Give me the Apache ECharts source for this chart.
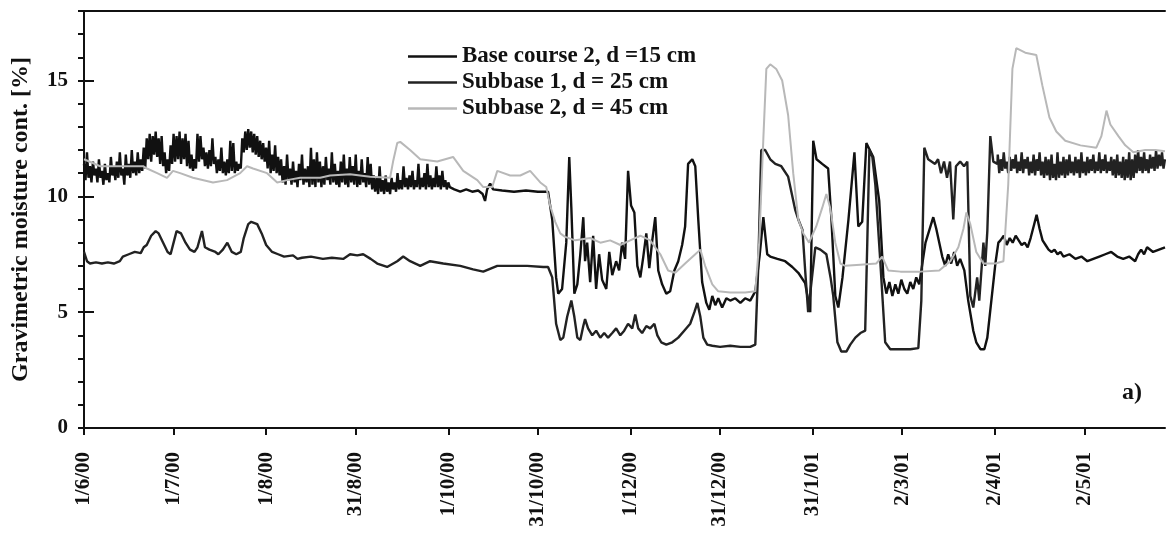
<!DOCTYPE html>
<html lang="en">
<head>
<meta charset="UTF-8">
<title>Gravimetric moisture content</title>
<script src="https://cdn.jsdelivr.net/npm/echarts@6/dist/echarts.min.js"></script>
<style>
    html, body { margin: 0; padding: 0; background: #fff; }
    #main { width: 1166px; height: 534px; }
</style>
</head>
<body>
<div id="main"></div>
<script>
// days counted from 1/6/00
var dayCount = 363;
var tickDays = [0, 30, 61, 91, 122, 152, 183, 213, 244, 274, 305, 335];
var tickLabels = ['1/6/00', '1/7/00', '1/8/00', '31/8/00', '1/10/00', '31/10/00', '1/12/00', '31/12/00', '31/1/01', '2/3/01', '2/4/01', '2/5/01'];
var seriesNames = ['Base course 2, d =15 cm', 'Subbase 1, d = 25 cm', 'Subbase 2, d = 45 cm'];

var baseCourse = [
    [0, 11.4], [0.5, 10.7], [1, 11.9], [1.5, 10.8], [2, 11.3], [2.5, 10.6], [3, 11.5], [3.5, 10.9], [4, 11.2], [4.5, 10.6],
    [5, 11.6], [5.5, 10.8], [6, 11.1], [6.5, 10.5], [7, 11.4], [7.5, 10.7], [8, 11.0], [8.5, 10.6], [9, 11.7], [9.5, 10.9],
    [10, 11.3], [10.5, 10.7], [11, 11.5], [11.5, 10.8], [12, 11.9], [12.5, 10.9], [13, 11.2], [13.5, 10.5], [14, 11.8], [14.5, 10.9],
    [15, 11.4], [15.5, 10.8], [16, 12.0], [16.5, 11.0], [17, 11.5], [17.5, 10.9], [18, 11.9], [18.5, 11.0], [19, 11.6], [19.5, 11.1],
    [20, 12.1], [20.5, 11.2], [21, 12.5], [21.5, 11.6], [22, 12.7], [22.5, 11.5], [23, 12.6], [23.5, 11.8], [24, 12.8], [24.5, 11.7],
    [25, 12.5], [25.5, 11.4], [26, 12.6], [26.5, 11.3], [27, 11.9], [27.5, 11.0], [28, 11.6], [28.5, 11.1], [29, 12.2], [29.5, 11.4],
    [30, 12.7], [30.5, 11.5], [31, 12.6], [31.5, 11.6], [32, 12.8], [32.5, 11.4], [33, 12.5], [33.5, 11.6], [34, 12.7], [34.5, 11.3],
    [35, 12.4], [35.5, 11.2], [36, 11.8], [36.5, 11.1], [37, 11.6], [37.5, 11.2], [38, 12.7], [38.5, 11.5], [39, 12.6], [39.5, 11.6],
    [40, 12.1], [40.5, 11.3], [41, 11.9], [41.5, 11.2], [42, 12.0], [42.5, 11.3], [43, 12.5], [43.5, 11.4], [44, 11.7], [44.5, 11.0],
    [45, 11.6], [45.5, 11.1], [46, 12.1], [46.5, 11.0], [47, 11.5], [47.5, 10.9], [48, 11.6], [48.5, 11.0], [49, 12.4], [49.5, 11.1],
    [50, 12.3], [50.5, 11.0], [51, 11.5], [51.5, 11.1], [52, 11.4], [52.5, 11.2], [53, 12.5], [53.5, 11.9], [54, 12.8], [54.5, 12.0],
    [55, 12.9], [55.5, 12.1], [56, 12.8], [56.5, 11.9], [57, 12.7], [57.5, 11.8], [58, 12.6], [58.5, 11.7], [59, 12.4], [59.5, 11.6],
    [60, 12.3], [60.5, 11.5], [61, 12.1], [61.5, 11.2], [62, 12.4], [62.5, 11.0], [63, 11.8], [63.5, 11.1], [64, 12.2], [64.5, 11.0],
    [65, 11.7], [65.5, 10.9], [66, 11.6], [66.5, 10.6], [67, 11.3], [67.5, 10.5], [68, 11.8], [68.5, 10.7], [69, 11.2], [69.5, 10.5],
    [70, 11.5], [70.5, 10.6], [71, 11.1], [71.5, 10.4], [72, 11.4], [72.5, 10.7], [73, 11.8], [73.5, 10.5], [74, 11.2], [74.5, 10.6],
    [75, 11.3], [75.5, 10.4], [76, 12.1], [76.5, 10.5], [77, 11.6], [77.5, 10.4], [78, 11.9], [78.5, 10.6], [79, 11.5], [79.5, 10.4],
    [80, 11.3], [80.5, 10.5], [81, 11.7], [81.5, 10.7], [82, 11.2], [82.5, 10.5], [83, 11.9], [83.5, 10.6], [84, 11.4], [84.5, 10.5],
    [85, 11.1], [85.5, 10.4], [86, 11.5], [86.5, 10.6], [87, 11.8], [87.5, 10.5], [88, 11.2], [88.5, 10.4], [89, 11.7], [89.5, 10.6],
    [90, 11.3], [90.5, 10.5], [91, 11.8], [91.5, 10.4], [92, 11.1], [92.5, 10.5], [93, 11.6], [93.5, 10.6], [94, 11.0], [94.5, 10.4],
    [95, 11.7], [95.5, 10.5], [96, 11.4], [96.5, 10.3], [97, 10.9], [97.5, 10.2], [98, 10.8], [98.5, 10.1], [99, 11.3], [99.5, 10.2],
    [100, 10.7], [100.5, 10.1], [101, 10.9], [101.5, 10.2], [102, 10.6], [102.5, 10.1], [103, 10.8], [103.5, 10.3], [104, 10.6], [104.5, 10.2],
    [105, 11.0], [105.5, 10.3], [106, 10.7], [106.5, 10.3], [107, 11.3], [107.5, 10.4], [108, 10.8], [108.5, 10.3], [109, 10.9], [109.5, 10.4],
    [110, 11.1], [110.5, 10.3], [111, 10.7], [111.5, 10.4], [112, 11.4], [112.5, 10.3], [113, 10.8], [113.5, 10.4], [114, 11.0], [114.5, 10.3],
    [115, 11.4], [115.5, 10.4], [116, 10.9], [116.5, 10.3], [117, 10.8], [117.5, 10.4], [118, 11.3], [118.5, 10.4], [119, 10.9], [119.5, 10.3],
    [120, 11.1], [120.5, 10.4], [121, 10.7], [121.5, 10.3], [122, 10.6], [122.5, 10.4],
    [124, 10.3], [126, 10.2], [128, 10.3], [130, 10.2], [132, 10.25], [133.5, 10.1], [134.3, 9.8], [135, 10.3], [136, 10.55], [137, 10.3],
    [140, 10.25], [144, 10.2], [148, 10.25], [152, 10.2], [155.4, 10.2],
    [156.8, 9.0], [158.1, 6.5], [158.8, 5.8], [160.1, 6.0], [161.5, 8.0], [162.5, 11.7], [163.2, 9.5], [164.2, 5.8], [165.2, 6.2], [166.2, 7.5],
    [167.2, 9.1], [167.8, 7.2], [168.5, 8.0], [169.5, 6.3], [170.5, 8.3], [171.5, 6.0], [172.5, 7.5], [173.5, 6.4], [174.9, 6.0], [175.9, 7.6],
    [176.9, 6.6], [178.2, 7.2], [179.2, 6.8], [180.2, 8.0], [181.2, 7.3], [182.2, 11.1], [183.2, 9.6], [184.3, 9.3], [185.3, 7.0], [186.3, 6.5],
    [187.3, 7.4], [188.3, 8.4], [189.3, 6.9], [190.3, 8.1], [191.3, 9.1], [192.3, 6.8], [193.6, 6.2], [195, 5.8], [196.3, 5.9], [197.7, 6.8],
    [199, 7.2], [200.3, 7.9], [201.3, 8.7], [202.3, 11.4], [203.7, 11.6], [204.7, 11.3], [205.7, 9.0], [207, 6.3], [208.4, 5.4], [209.4, 5.1],
    [210.4, 5.7], [211.4, 5.3], [212.4, 5.6], [213.7, 5.2], [215.1, 5.6], [216.4, 5.5], [218.1, 5.6], [219.8, 5.4], [221.4, 5.6], [223.1, 5.5],
    [224.8, 5.9], [226.3, 7.5], [227.5, 9.1], [228.8, 7.5], [229.8, 7.4], [232.2, 7.3], [234.8, 7.2], [237.2, 6.95], [239.2, 6.7], [241.5, 6.25],
    [243.2, 5.0], [244.2, 12.4], [245.3, 11.6], [247.2, 11.4], [249.2, 11.2], [250.3, 9.0], [251.6, 5.7], [252.6, 5.2], [254, 6.5], [256, 9.0],
    [258, 11.9], [259.3, 8.7], [260.6, 8.9], [262, 12.3], [264.3, 11.7], [266.3, 9.8], [267.7, 6.5], [268.7, 5.8], [269.7, 6.3], [270.7, 5.7],
    [271.7, 6.2], [272.7, 5.8], [273.7, 6.4], [274.7, 6.0], [275.7, 5.8], [276.7, 6.3], [277.7, 6.0], [278.7, 6.5], [279.7, 6.2], [281.8, 8.0],
    [284.4, 9.1], [285.4, 8.6], [287.4, 7.4], [288.4, 7.0], [289.4, 7.5], [290.4, 7.1], [291.4, 7.6], [292.4, 7.0], [293.4, 7.3], [294.8, 6.8],
    [296.1, 5.5], [297.8, 4.2], [298.8, 3.7], [300.2, 3.4], [301.5, 3.4], [302.5, 3.9], [305.2, 7.1], [306.2, 8.0], [306.9, 8.1],
    [308, 8.3], [309, 7.9], [310, 8.2], [311, 8.0], [312, 8.3], [313, 8.1], [314, 7.9], [315, 8.0], [316, 7.8], [317, 8.2],
    [318, 8.7], [319, 9.2], [320, 8.6], [321, 8.1], [322, 7.9], [323, 7.7], [324, 7.6], [325, 7.7], [326, 7.5], [327, 7.6],
    [328, 7.4], [330, 7.5], [332, 7.3], [334, 7.4], [336, 7.2], [338, 7.3], [340, 7.4], [342, 7.5], [344, 7.6], [346, 7.4],
    [348, 7.3], [350, 7.4], [352, 7.2], [353, 7.5], [354, 7.7], [355, 7.5], [356, 7.8], [358, 7.6], [360, 7.7], [362, 7.8]
];

var subbase1 = [
    [0, 7.6], [1, 7.2], [2, 7.1], [4, 7.15], [6, 7.1], [8, 7.15], [10, 7.1], [12, 7.2], [13, 7.4], [15, 7.5],
    [17, 7.6], [19, 7.55], [20, 7.8], [21, 7.9], [22.5, 8.3], [24, 8.5], [25, 8.4], [26.5, 8.0], [28, 7.6], [29, 7.5],
    [30, 8.0], [31, 8.5], [32.5, 8.4], [34, 8.0], [35.5, 7.7], [37, 7.6], [38, 7.8], [39.5, 8.5], [40.5, 7.8], [42, 7.7],
    [44, 7.6], [45, 7.5], [46.5, 7.7], [48, 8.0], [49.5, 7.6], [51, 7.5], [52.5, 7.6], [53.5, 8.2], [55, 8.8], [56, 8.9],
    [58, 8.8], [59.5, 8.4], [61, 7.9], [63, 7.6], [65, 7.5], [67, 7.4], [70, 7.45], [71.5, 7.3], [73, 7.35], [76, 7.4],
    [80, 7.3], [83, 7.35], [86.8, 7.3], [89.1, 7.5], [91.5, 7.45], [93.5, 7.5], [96, 7.3], [98.2, 7.1], [101.5, 6.95], [104.9, 7.2],
    [106.9, 7.4], [109.2, 7.2], [112.6, 7.0], [115.9, 7.2], [120.3, 7.1], [126, 7.0], [130.3, 6.85], [133.7, 6.75], [138.4, 7.0], [142.7, 7.0],
    [148.4, 7.0], [153.8, 6.95], [155.4, 6.95],
    [156.8, 6.5], [158.1, 4.5], [159.5, 3.8], [160.5, 3.9], [161.8, 4.8], [163.2, 5.5], [164.2, 4.8], [165.2, 3.9], [166.2, 3.8], [167.2, 4.4],
    [167.8, 4.7], [168.8, 4.3], [170.2, 4.0], [171.5, 4.2], [172.9, 3.9], [174.2, 4.1], [175.5, 3.9], [176.9, 4.1], [178.2, 4.3], [179.6, 4.0],
    [180.9, 4.2], [182.2, 4.5], [183.6, 4.3], [184.6, 4.9], [185.6, 4.3], [186.9, 4.1], [188.3, 4.4], [189.6, 4.3], [191, 4.5], [192, 4.0],
    [193.3, 3.7], [195, 3.6], [197, 3.7], [199, 3.9], [201, 4.2], [203, 4.5], [204.4, 5.0], [205.4, 5.4], [206.4, 4.8], [207.4, 3.9],
    [208.7, 3.6], [210.4, 3.55], [213, 3.5], [216.4, 3.55], [219.8, 3.5], [223.1, 3.5], [224.8, 3.6], [225.8, 7.0], [226.8, 12.0], [228.1, 12.0],
    [229.8, 11.6], [231.5, 11.4], [233.5, 11.3], [235.8, 10.85], [238.2, 9.4], [239.2, 9.0], [240.6, 8.55], [241.5, 6.8], [242.5, 5.0], [244.9, 7.8],
    [246.6, 7.7], [248.6, 7.5], [250, 6.5], [250.9, 5.7], [252.3, 3.7], [253.6, 3.3], [255.3, 3.3], [256.6, 3.6], [258.3, 3.9], [260, 4.1],
    [261.6, 4.2], [262.3, 8.0], [263, 12.0], [264, 11.7], [265, 10.5], [266.7, 7.1], [268.3, 3.7], [270, 3.4], [273.4, 3.4], [276.7, 3.4],
    [279.4, 3.45], [280.4, 5.5], [281.4, 12.1], [282.7, 11.6], [285, 11.4], [286, 11.6], [287, 11.0], [288, 11.5], [289, 10.8], [290, 11.5],
    [291.1, 9.0], [292, 11.3], [293.4, 11.5], [294.7, 11.3], [295.8, 11.5], [296.5, 7.5], [296.8, 5.7], [297.8, 5.2], [299.1, 6.5], [299.8, 5.5],
    [301.2, 8.0], [301.8, 7.0], [302.5, 8.5], [303.5, 12.6], [304.5, 11.5], [305.9, 11.4],
    [306, 11.8], [306.5, 11.0], [307, 11.6], [307.5, 11.1], [308, 11.9], [308.5, 11.2], [309, 11.5], [309.5, 11.0], [310, 11.7], [310.5, 11.1],
    [311, 11.6], [311.5, 11.2], [312, 11.8], [312.5, 11.0], [313, 11.5], [313.5, 11.1], [314, 11.9], [314.5, 11.0], [315, 11.6], [315.5, 11.2],
    [316, 11.7], [316.5, 10.9], [317, 11.5], [317.5, 11.0], [318, 11.8], [318.5, 10.9], [319, 11.6], [319.5, 11.1], [320, 11.9], [320.5, 10.9],
    [321, 11.5], [321.5, 10.8], [322, 11.7], [322.5, 10.9], [323, 11.6], [323.5, 10.7], [324, 11.8], [324.5, 10.8], [325, 11.4], [325.5, 10.7],
    [326, 11.9], [326.5, 10.8], [327, 11.5], [327.5, 10.9], [328, 11.7], [328.5, 10.8], [329, 11.6], [329.5, 10.9], [330, 11.8], [330.5, 11.0],
    [331, 11.5], [331.5, 10.9], [332, 11.7], [332.5, 11.0], [333, 11.6], [333.5, 10.8], [334, 11.9], [334.5, 11.0], [335, 11.5], [335.5, 10.9],
    [336, 11.7], [336.5, 11.0], [337, 11.6], [337.5, 11.1], [338, 11.8], [338.5, 11.0], [339, 11.5], [339.5, 11.1], [340, 11.9], [340.5, 11.0],
    [341, 11.6], [341.5, 11.1], [342, 11.8], [342.5, 11.0], [343, 11.5], [343.5, 11.1], [344, 11.7], [344.5, 10.9], [345, 11.6], [345.5, 10.8],
    [346, 11.8], [346.5, 10.9], [347, 11.5], [347.5, 10.8], [348, 11.7], [348.5, 10.7], [349, 11.6], [349.5, 10.8], [350, 11.9], [350.5, 10.7],
    [351, 11.6], [351.5, 10.8], [352, 11.8], [352.5, 11.0], [353, 12.0], [353.5, 11.1], [354, 11.7], [354.5, 11.0], [355, 11.9], [355.5, 11.1],
    [356, 11.6], [356.5, 11.0], [357, 11.8], [357.5, 11.2], [358, 11.7], [358.5, 11.1], [359, 12.0], [359.5, 11.2], [360, 11.8], [360.5, 11.3],
    [361, 11.9], [361.5, 11.2], [362, 11.6]
];

var subbase2 = [
    [0, 11.6], [5.4, 11.3], [19.8, 11.3], [21.1, 11.2], [24.5, 11.0], [27.8, 10.8], [29.8, 11.1], [32.2, 11.0], [36.5, 10.8], [43.2, 10.6],
    [47.9, 10.7], [52.3, 11.0], [54.6, 11.3], [56.6, 11.2], [61.3, 11.0], [64.7, 10.6], [68, 10.7], [72.4, 10.8], [79.1, 10.8], [82.4, 10.9],
    [89.1, 10.95], [95.8, 10.85], [102.5, 10.8], [103.5, 11.5], [104.9, 12.3], [105.9, 12.35], [109.2, 12.0], [112.6, 11.6], [118.3, 11.5], [123.6, 11.7],
    [127, 11.1], [131.7, 10.7], [133.7, 10.4], [136.7, 10.4], [138.4, 11.1], [142.7, 10.9], [146.1, 10.9], [149.4, 11.1], [152.8, 10.6], [154.8, 10.4],
    [156.1, 9.6], [157.8, 8.9], [159.5, 8.4], [161.1, 8.25], [164.5, 8.1], [169.5, 8.2], [172.9, 8.0], [176.2, 8.1], [179.6, 7.9], [182.9, 8.1],
    [186.3, 8.3], [189.6, 8.1], [193, 7.5], [195.6, 6.8], [198, 6.7], [201.3, 7.1], [204.7, 7.5], [206.4, 7.7], [208, 7.0], [210.4, 6.2],
    [212.4, 5.9], [216.4, 5.85], [221.4, 5.85], [224.8, 5.9], [226.1, 8.0], [227.5, 12.5], [228.5, 15.5], [229.8, 15.7], [231.8, 15.5], [233.8, 15.0],
    [235.8, 13.5], [237.5, 11.0], [239.2, 9.0], [240.9, 8.4], [242.8, 8.0], [245.2, 8.7], [247.2, 9.5], [248.6, 10.1], [249.9, 9.5], [251.6, 8.0],
    [253.3, 7.1], [254.9, 7.0], [260, 7.05], [265.3, 7.1], [267.3, 7.4], [269.3, 6.8], [273.4, 6.75], [280.1, 6.75], [286.4, 6.8], [290.1, 7.2],
    [292.8, 7.8], [294.5, 8.6], [295.5, 9.3], [296.8, 8.8], [298.8, 7.6], [301.2, 7.1], [305.2, 7.1], [307.9, 7.2], [309.5, 10.5], [310.9, 15.5],
    [312.2, 16.4], [315.2, 16.2], [318.9, 16.1], [320.9, 14.8], [323.3, 13.4], [325.6, 12.8], [328.6, 12.4], [333.7, 12.2], [339, 12.1], [340.7, 12.6],
    [342.4, 13.7], [343.7, 13.1], [346.4, 12.6], [348.7, 12.2], [351.4, 11.9], [355.4, 12.0], [358.8, 12.0], [362, 11.95]
];

// category labels only on the tick days
var dayLabels = [];
for (var i = 0; i < dayCount; i++) {
    var k = tickDays.indexOf(i);
    dayLabels.push(k >= 0 ? tickLabels[k] : '');
}

var serif = '"Liberation Serif", "Times New Roman", serif';
var myChart = echarts.init(document.getElementById('main'));
var option = {
    animation: false,
    backgroundColor: '#fff',
    textStyle: { fontFamily: serif, fontWeight: 'bold', color: '#111' },
    grid: { left: 84, right: 1, top: 11, bottom: 106 },
    legend: {
        orient: 'vertical',
        left: 403,
        top: 40,
        icon: 'rect',
        itemWidth: 49,
        itemHeight: 2.5,
        itemGap: 3,
        selectedMode: false,
        textStyle: { fontFamily: serif, fontWeight: 'bold', fontSize: 23, color: '#111', lineHeight: 23 }
    },
    graphic: [{
        type: 'text',
        right: 24,
        top: 381,
        style: { text: 'a)', font: 'bold 24px ' + serif, fill: '#111' }
    }],
    xAxis: [{
        type: 'value',
        position: 'top',
        min: 0,
        max: dayCount - 1,
        axisLine: { show: true, onZero: false, lineStyle: { color: '#111', width: 2 } },
        axisTick: { show: false },
        axisLabel: { show: false },
        splitLine: { show: false }
    }, {
        type: 'category',
        position: 'bottom',
        data: dayLabels,
        boundaryGap: false,
        axisLine: { show: true, onZero: false, lineStyle: { color: '#111', width: 2 } },
        axisTick: {
            length: 7,
            lineStyle: { color: '#111', width: 2 },
            interval: function (index, value) { return value !== ''; }
        },
        axisLabel: {
            rotate: 90,
            margin: 24,
            fontSize: 21,
            fontWeight: 'bold',
            fontFamily: serif,
            color: '#111',
            interval: function (index, value) { return value !== ''; }
        },
        splitLine: { show: false }
    }],
    yAxis: [{
        type: 'value',
        min: 0,
        max: 18,
        interval: 1,
        name: 'Gravimetric moisture cont. [%]',
        nameLocation: 'middle',
        nameGap: 51,
        nameRotate: 90,
        nameTextStyle: { fontFamily: serif, fontWeight: 'bold', fontSize: 24, color: '#111' },
        axisLine: { show: true, lineStyle: { color: '#111', width: 2 } },
        axisTick: { show: true, length: 6, lineStyle: { color: '#111', width: 2 } },
        axisLabel: {
            margin: 16,
            fontSize: 21,
            fontWeight: 'bold',
            fontFamily: serif,
            color: '#111',
            formatter: function (v) { return v % 5 === 0 ? v : ''; }
        },
        splitLine: { show: false }
    }, {
        type: 'value',
        position: 'left',
        min: 0,
        max: 18,
        interval: 5,
        axisLine: { show: false },
        axisTick: { show: true, inside: true, length: 10, lineStyle: { color: '#111', width: 2 } },
        axisLabel: { show: false },
        splitLine: { show: false }
    }],
    series: [{
        name: seriesNames[0],
        type: 'line',
        data: baseCourse,
        showSymbol: false,
        symbol: 'none',
        color: '#111',
        lineStyle: { color: '#111', width: 2.4 }
    }, {
        name: seriesNames[1],
        type: 'line',
        data: subbase1,
        showSymbol: false,
        symbol: 'none',
        color: '#222',
        lineStyle: { color: '#222', width: 2.4 }
    }, {
        name: seriesNames[2],
        type: 'line',
        data: subbase2,
        showSymbol: false,
        symbol: 'none',
        color: '#b8b8b8',
        lineStyle: { color: '#b8b8b8', width: 2 }
    }]
};
myChart.setOption(option);
</script>
</body>
</html>
